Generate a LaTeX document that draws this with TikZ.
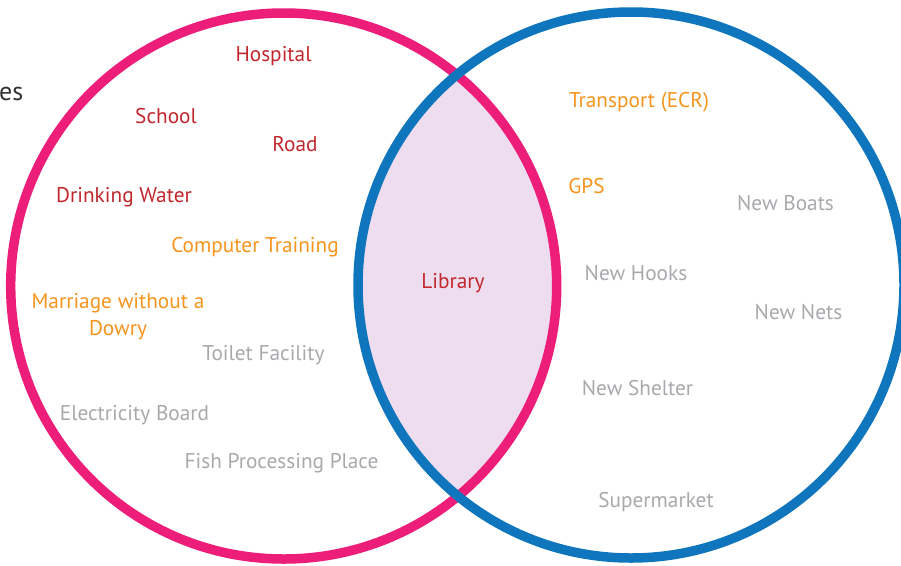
\documentclass[tikz,border=0pt]{standalone}
\usepackage{fontspec}
\setmainfont{PT Sans}
\definecolor{cpink}{HTML}{ED1E79}
\definecolor{cblue}{HTML}{0F75BC}
\definecolor{clens}{HTML}{EEDDEE}
\definecolor{cred}{HTML}{C1272D}
\definecolor{corange}{HTML}{F7941D}
\definecolor{cgray}{HTML}{A7A9AC}
\definecolor{cdark}{HTML}{333333}
\begin{document}
\begin{tikzpicture}[x=1pt,y=-1pt,
  lbl/.style={anchor=base,inner sep=0pt,font=\fontsize{21.3}{25}\selectfont},
  redt/.style={lbl,text=cred},
  oranget/.style={lbl,text=corange},
  grayt/.style={lbl,text=cgray},
  ring/.style={line width=9.5pt}]
\useasboundingbox (0,0) rectangle (901,565);
\coordinate (pc) at (283.7,286);
\coordinate (bc) at (631,285);
\begin{scope}
  \clip (pc) circle[radius=273];
  \fill[clens] (bc) circle[radius=273];
\end{scope}
\draw[ring,cpink] (pc) circle[radius=273];
\draw[ring,cblue] (bc) circle[radius=273];
\node[anchor=base west,inner sep=0pt,text=cdark,font=\fontsize{26}{30}\selectfont] (es) at (-1,100) {es};
\node[redt] (hospital) at (273.5,61) {Hospital};
\node[redt] (school) at (166,123) {School};
\node[redt] (road) at (295,151) {Road};
\node[redt] (water) at (124,202) {Drinking Water};
\node[oranget] (computer) at (255,252) {Computer Training};
\node[oranget] (marriage1) at (118,308) {Marriage without a};
\node[oranget] (marriage2) at (118,335) {Dowry};
\node[grayt] (toilet) at (263.5,360) {Toilet Facility};
\node[grayt] (electricity) at (134.5,420) {Electricity Board};
\node[grayt] (fish) at (281.5,468) {Fish Processing Place};
\node[redt] (library) at (453,288) {Library};
\node[oranget] (transport) at (639,107) {Transport (ECR)};
\node[oranget] (gps) at (586.5,193) {GPS};
\node[grayt] (boats) at (785.5,210) {New Boats};
\node[grayt] (hooks) at (636,280) {New Hooks};
\node[grayt] (nets) at (798.5,319) {New Nets};
\node[grayt] (shelter) at (637.5,395) {New Shelter};
\node[grayt] (market) at (656,507) {Supermarket};
\end{tikzpicture}
\end{document}
